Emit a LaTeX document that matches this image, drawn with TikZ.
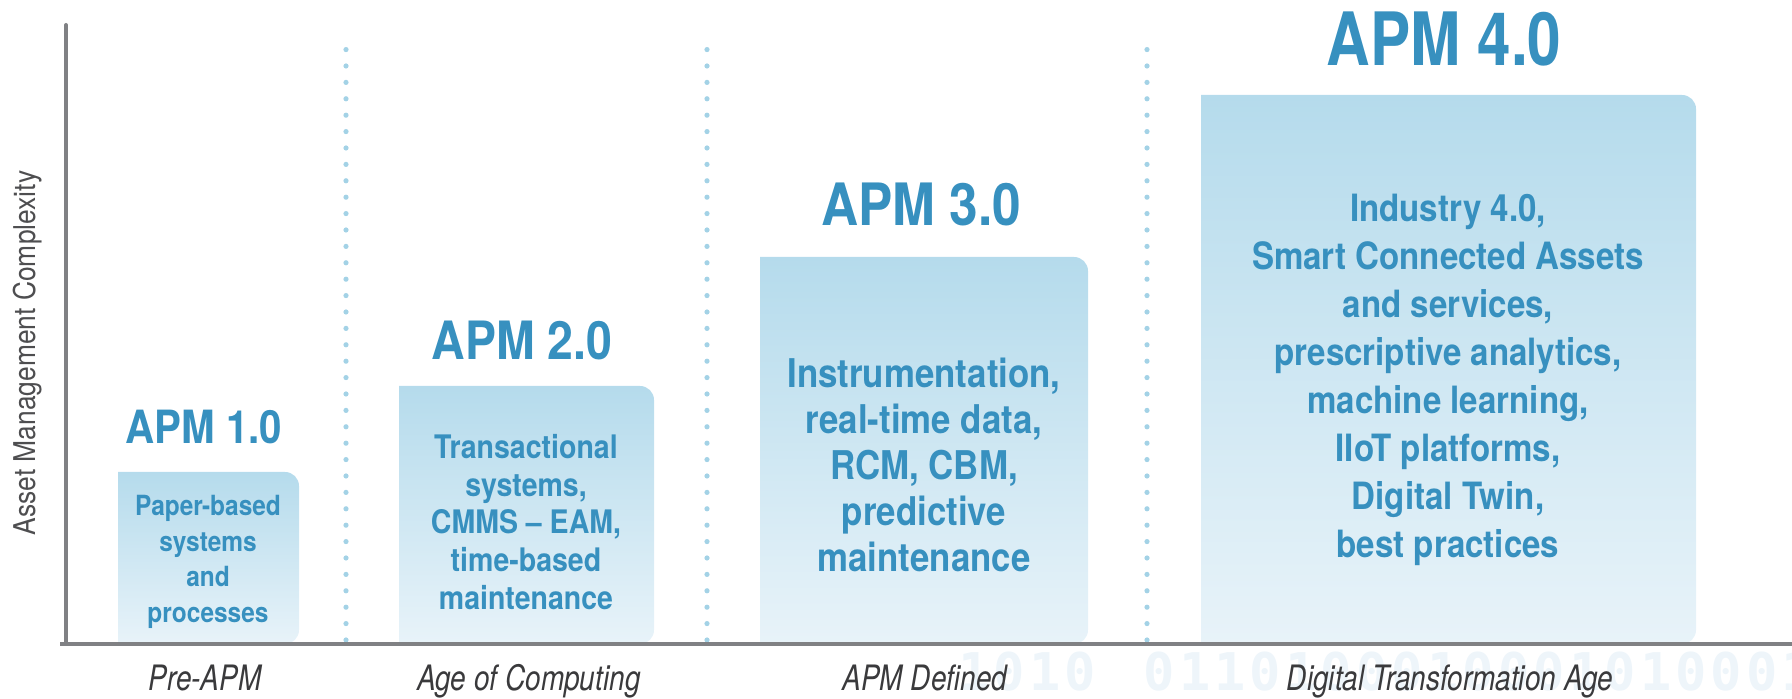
\documentclass[tikz,border=0pt]{standalone}
\usepackage{fontspec}
\setmainfont{TeX Gyre Heros}
\newfontfamily\apmfont[FakeStretch=0.88]{TeX Gyre Heros}
\newfontfamily\apmbigfont[FakeStretch=0.82]{TeX Gyre Heros}
\newfontfamily\erafont[FakeStretch=0.8]{TeX Gyre Heros}
\newfontfamily\bitsfont[LetterSpace=8]{DejaVu Sans Mono}
\definecolor{axisgray}{HTML}{808184}
\definecolor{dotblue}{HTML}{A3D2E6}
\definecolor{boxtop}{HTML}{B5DBEC}
\definecolor{boxbottom}{HTML}{E8F3F9}
\definecolor{apmblue}{HTML}{3790BF}
\definecolor{eragray}{HTML}{3A3A3C}
\definecolor{bitsblue}{HTML}{EEF5FA}

\begin{document}
\begin{tikzpicture}[x=0.5pt, y=0.5pt,
  axisline/.style={draw=axisgray, line width=2pt},
  divider/.style={draw=dotblue, line width=2.6pt, line cap=round, dash pattern=on 0pt off 8.2pt},
  boxshade/.style={top color=boxtop, bottom color=boxbottom},
  apmtitle/.style={text=apmblue, inner sep=0pt, font=\apmfont\bfseries\fontsize{#1}{#1}\selectfont},
  desc/.style n args={2}{text=apmblue, align=center, inner sep=0pt, font=\apmfont\bfseries\fontsize{#1}{#2}\selectfont},
  era/.style={text=eragray, anchor=base, inner sep=0pt, font=\erafont\itshape\fontsize{17.5}{20}\selectfont}]
\useasboundingbox (0, 0) rectangle (1792, 699);
\path (66, 55) coordinate (origin);

\node[text=bitsblue, anchor=base west, inner sep=0pt, font=\bitsfont\bfseries\fontsize{26}{26}\selectfont]
  (bits) at (958, 8) {1010\ \hspace{6pt}0110100010001010001};

% dotted dividers
\draw[divider] (346, 59) -- (346, 656);
\draw[divider] (707, 59) -- (707, 656);
\draw[divider] (1147, 59) -- (1147, 656);

% boxes, square at the bottom
\shade[boxshade] (118, 55) -- (118, 227) [rounded corners=7pt] -- (299, 227) -- (299, 55) [sharp corners] -- cycle;
\shade[boxshade] (399, 55) -- (399, 313) [rounded corners=7pt] -- (654, 313) -- (654, 55) [sharp corners] -- cycle;
\shade[boxshade] (760, 55) -- (760, 442) [rounded corners=7pt] -- (1088, 442) -- (1088, 55) [sharp corners] -- cycle;
\shade[boxshade] (1201, 55) -- (1201, 604) [rounded corners=7pt] -- (1696, 604) -- (1696, 55) [sharp corners] -- cycle;

\node[apmtitle=22.9] (apm1) at (204, 272) {APM 1.0};
\node[apmtitle=26.4] (apm2) at (522, 358) {APM 2.0};
\node[apmtitle=29.2] (apm3) at (921, 495) {APM 3.0};
\node[apmtitle=36.8, font=\apmbigfont\bfseries\fontsize{36.8}{36.8}\selectfont] (apm4) at (1444, 660) {APM 4.0};

\node[desc={13.9}{17.7}] (desc1) at (208, 137) {Paper-based\\systems\\and\\processes};
\node[desc={16.2}{18.9}] (desc2) at (526, 177) {Transactional\\systems,\\CMMS – EAM,\\time-based\\maintenance};
\node[desc={19.8}{22.9}] (desc3) at (924, 234) {Instrumentation,\\real-time data,\\RCM, CBM,\\predictive\\maintenance};
\node[desc={18.8}{24}] (desc4) at (1448, 319) {Industry 4.0,\\Smart Connected Assets\\and services,\\prescriptive analytics,\\machine learning,\\IIoT platforms,\\Digital Twin,\\best practices};

%%%%%%%%%%%%%%%%%%%%%%%%%%%%%%%%%%%%%%%%

\draw[axisline] (60, 55) -- (1792, 55);
\draw[axisline, line cap=round] (origin) -- ++(0, 619);
\node[rotate=90, text=eragray!90, inner sep=0pt, font=\apmfont\fontsize{15}{18}\selectfont]
  (complexity) at (28, 346) {Asset Management Complexity};

\node[era] (era1) at (205, 8) {Pre-APM};
\node[era] (era2) at (529, 8) {Age of Computing};
\node[era] (era3) at (925, 8) {APM Defined};
\node[era] (era4) at (1450, 8) {Digital Transformation Age};

\end{tikzpicture}
\end{document}
